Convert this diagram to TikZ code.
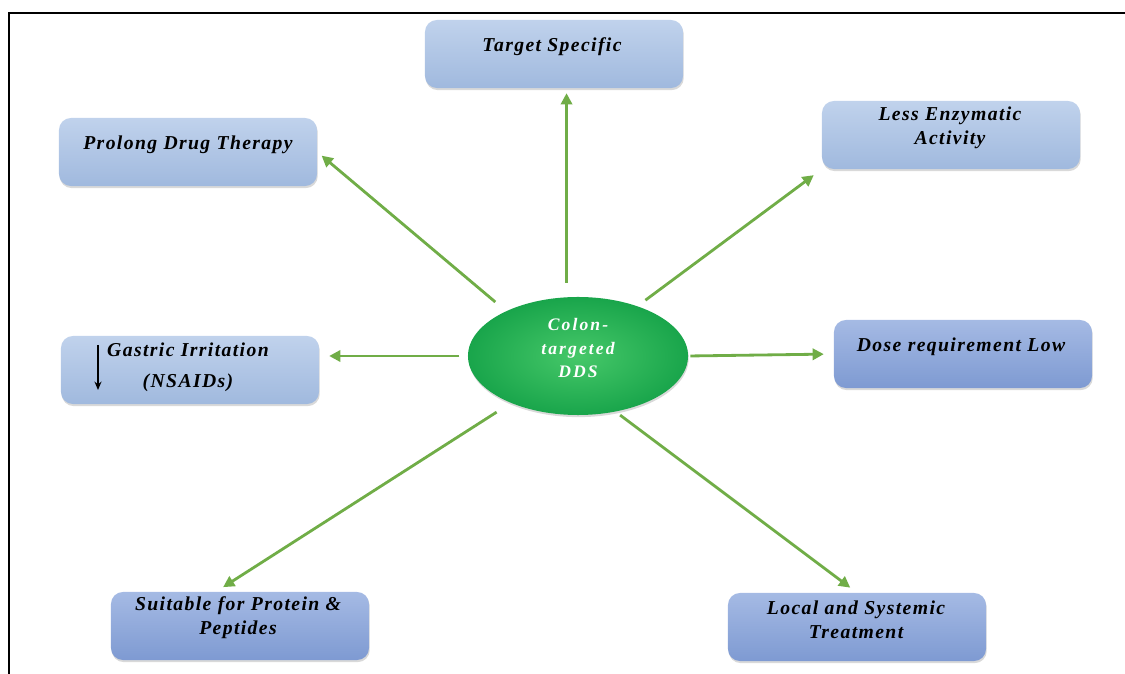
\documentclass[tikz,border=0pt]{standalone}
\usepackage{fontspec}
\setmainfont{Liberation Serif}
\newfontfamily\boxfont[LetterSpace=7]{Liberation Serif}
\newfontfamily\corefont[LetterSpace=12]{Liberation Serif}
\usetikzlibrary{shapes.geometric,shadows,arrows.meta}

\definecolor{arrowgreen}{RGB}{112,173,71}
\definecolor{lighttop}{RGB}{192,210,236}
\definecolor{lightbot}{RGB}{160,185,222}
\definecolor{darktop}{RGB}{165,186,228}
\definecolor{darkbot}{RGB}{126,154,210}
\definecolor{coreinner}{RGB}{70,200,105}
\definecolor{coreouter}{RGB}{25,165,75}

\begin{document}
\begin{tikzpicture}[x=0.025cm, y=-0.025cm,
    box/.style={rectangle, rounded corners=0.3cm, minimum width=6.45cm, minimum height=1.7cm,
        drop shadow={shadow xshift=0.5pt, shadow yshift=-1.5pt, opacity=0.3}},
    boxlight/.style={box, top color=lighttop, bottom color=lightbot},
    boxdark/.style={box, top color=darktop, bottom color=darkbot},
    boxtext/.style={font=\boxfont\bfseries\itshape\fontsize{14}{17}\selectfont, align=center, inner sep=0pt},
    coretext/.style={font=\corefont\bfseries\itshape\fontsize{12.5}{16.4}\selectfont, text=white, align=center, inner sep=0pt},
    arr/.style={draw=arrowgreen, line width=2pt, -{Triangle[length=8pt,width=8pt]}}]

\useasboundingbox (0,0) rectangle (1125,674);

% frame
\draw[line width=1.4pt] (9,674) -- (9,13) -- (1125,13);

% centre
\node[ellipse, minimum width=5.5cm, minimum height=2.95cm, inner color=coreinner, outer color=coreouter,
    drop shadow={shadow xshift=0.5pt, shadow yshift=-1.5pt, opacity=0.3}] (core) at (578,356) {};
\node[coretext] (core-txt) at (578,348) {Colon-\\targeted\\DDS};

% boxes
\node[boxlight] (ts) at (554,54) {};
\node[boxtext] (ts-txt) at (552,47) {Target Specific};

\node[boxlight] (pdt) at (188,152) {};
\node[boxtext] (pdt-txt) at (188,145) {Prolong Drug Therapy};

\node[boxlight] (lea) at (951,135) {};
\node[boxtext] (lea-txt) at (950,127.5) {Less Enzymatic\\Activity};

\node[boxlight] (gi) at (190,370) {};
\node[boxtext, font=\boxfont\bfseries\itshape\fontsize{14}{22}\selectfont] (gi-txt) at (188,367.5) {Gastric Irritation\\(NSAIDs)};
\draw[-{Stealth[length=6pt,width=5pt]}, line width=0.9pt] (98,345) -- (98,390);

\node[boxdark] (drl) at (963,354) {};
\node[boxtext] (drl-txt) at (961,347) {Dose requirement Low};

\node[boxdark] (sfp) at (240,626) {};
\node[boxtext] (sfp-txt) at (238,617.5) {Suitable for Protein \&\\Peptides};

\node[boxdark] (lst) at (857,627) {};
\node[boxtext] (lst-txt) at (856,620) {Local and Systemic\\Treatment};

% arrows
\draw[arr, shorten <=10pt, shorten >=3.5pt] (core.101) -- (core.101 |- ts.south);
\draw[arr, shorten <=10pt, shorten >=4pt] (core.148) -- (pdt.east);
\draw[arr, shorten <=7pt, shorten >=7pt] (core.40) -- (lea.south west);
\draw[arr, shorten <=6pt, shorten >=7pt] (core.west) -- (core.west -| gi.east);
\draw[arr, shorten <=1.5pt, shorten >=7pt] (core.east) -- (drl.west);
\draw[arr, shorten <=12pt, shorten >=6pt] (core.215) -- (sfp.125);
\draw[arr, shorten <=4pt, shorten >=6pt] (core.304) -- (lst.north);

\end{tikzpicture}
\end{document}
